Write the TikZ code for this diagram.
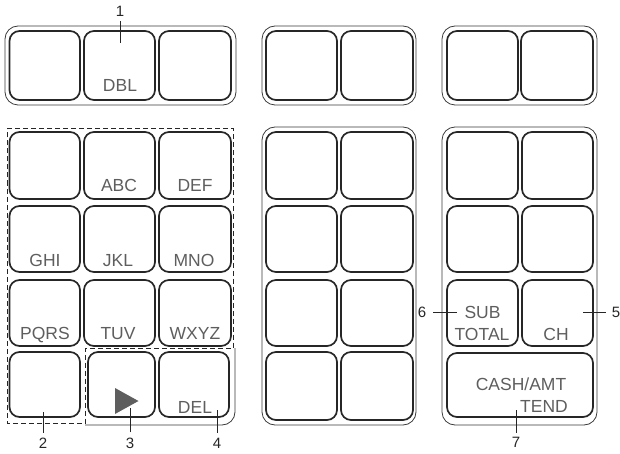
\documentclass[tikz,border=0pt]{standalone}
\usepackage{fontspec}
\setmainfont{Liberation Sans}
\definecolor{keytext}{HTML}{5E5E5E}
\definecolor{keyline}{HTML}{262626}
\definecolor{grpline}{HTML}{3A3A3A}
\begin{document}
\begin{tikzpicture}[x=1pt,y=-1pt,
  keybox/.style={draw=keyline,line width=1.7pt,rounded corners=10pt},
  grpbox/.style={draw=grpline,line width=0.8pt,rounded corners=13pt},
  dashbox/.style={draw=keyline,line width=1pt,dash pattern=on 5pt off 3pt},
  klabel/.style={anchor=base,inner sep=0pt,text=keytext,font=\fontsize{17.5}{20}\selectfont},
  num/.style={inner sep=0pt,text=black!85,font=\fontsize{15}{17}\selectfont},
  lead/.style={draw=black!85,line width=1pt}]
\useasboundingbox (0,0) rectangle (620,454);
% top groups
\draw[grpbox] (5,26) rectangle (236,105);
\draw[grpbox] (262,26) rectangle (416,105);
\draw[grpbox] (442,26) rectangle (597,105);
\foreach \a/\b in {9.5/80,84/155,159/231,266/337,341/413,447/518,521/593}
  \draw[keybox] (\a,31) rectangle (\b,100);
% lower groups outlines
\draw[grpbox] (262,127) rectangle (416,425);
\draw[grpbox] (442,127) rectangle (597,425);
\draw[grpline,line width=0.8pt,rounded corners=13pt] (85,425) -- (235,425) -- (235,348);
\draw[dashbox] (7,128.5) -- (233,128.5) -- (233,348) -- (85,348) -- (85,423) -- (7,423) -- cycle;
% left keypad keys
\foreach \y/\z in {132/199,206/272,280/346}
  \foreach \a/\b in {9.5/80,84/155,159/231}
    \draw[keybox] (\a,\y) rectangle (\b,\z);
\foreach \a/\b in {9.5/80,88/155,159/229}
  \draw[keybox] (\a,352) rectangle (\b,417);
% middle keypad
\foreach \y/\z in {132/199,206/272,280/346,352/420}
  \foreach \a/\b in {266/337,341/413}
    \draw[keybox] (\a,\y) rectangle (\b,\z);
% right keypad
\foreach \y/\z in {132/199,206/272,280/346}
  \foreach \a/\b in {447/518,522/593}
    \draw[keybox] (\a,\y) rectangle (\b,\z);
\draw[keybox] (447,353) rectangle (593,417);
% key labels
\node[klabel] (dbl) at (120,92) {DBL};
\node[klabel] (abc) at (119,192) {ABC};
\node[klabel] (def) at (195,192) {DEF};
\node[klabel] (ghi) at (45,266) {GHI};
\node[klabel] (jkl) at (118,266) {JKL};
\node[klabel] (mno) at (194,266) {MNO};
\node[klabel] (pqrs) at (45,339) {PQRS};
\node[klabel] (tuv) at (118,339) {TUV};
\node[klabel] (wxyz) at (195,339) {WXYZ};
\node[klabel] (del) at (195,413) {DEL};
\node[klabel] (sub) at (482.5,318) {SUB};
\node[klabel] (total) at (482,340) {TOTAL};
\node[klabel] (ch) at (556,340) {CH};
\node[klabel] (cash) at (521,390) {CASH/AMT};
\node[klabel] (tend) at (544,412) {TEND};
\fill[keytext] (115,388) -- (138.5,401) -- (115,414) -- cycle;
% callouts
\node[num] (n1) at (120,11) {1};
\node[num] (n2) at (43,443) {2};
\node[num] (n3) at (130,443) {3};
\node[num] (n4) at (217,443) {4};
\node[num] (n5) at (616,312) {5};
\node[num] (n6) at (422,312) {6};
\node[num] (n7) at (516,442) {7};
\coordinate (c1) at (120,43);
\coordinate (c2) at (43,412);
\coordinate (c3) at (130,408);
\coordinate (c4) at (217,410);
\coordinate (c5) at (583,312);
\coordinate (c6) at (457,312);
\coordinate (c7) at (516,410);
\draw[lead] (n1.south) ++(0,5) -- (c1);
\draw[lead] (n2.north) ++(0,-5) -- (c2);
\draw[lead] (n3.north) ++(0,-5) -- (c3);
\draw[lead] (n4.north) ++(0,-5) -- (c4);
\draw[lead] (n5.west) ++(-6,0) -- (c5);
\draw[lead] (n6.east) ++(7,0) -- (c6);
\draw[lead] (n7.north) ++(0,-4) -- (c7);
\end{tikzpicture}
\end{document}
